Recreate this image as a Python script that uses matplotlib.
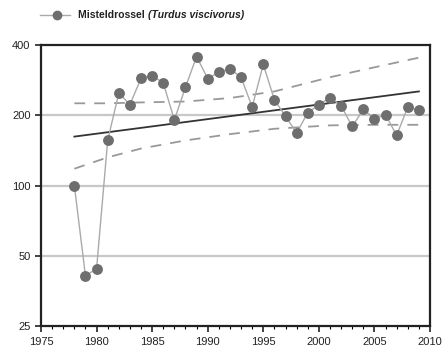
import matplotlib.pyplot as plt
import matplotlib.ticker as ticker

years = list(range(1978, 2010))
counts = [100, 41, 44, 156, 249, 222, 288, 296, 275, 191, 264, 357, 287, 306,
          316, 291, 217, 330, 233, 198, 168, 205, 222, 238, 220, 179, 212, 193,
          201, 164, 217, 210]

trend_years = [1978, 2009]
trend_vals = [162, 253]

band_years = [1978, 1981, 1984, 1988, 1992, 1996, 2001, 2005, 2009]
band_upper = [225, 225, 227, 229, 237, 253, 291, 321, 353]
band_lower = [118, 132, 144, 156, 166, 175, 181, 182, 182]

yticks = [25, 50, 100, 200, 400]
xticks = [1975, 1980, 1985, 1990, 1995, 2000, 2005, 2010]

plt.rcParams['font.family'] = ['Liberation Sans', 'DejaVu Sans']

fig = plt.figure(figsize=(4.48, 3.56), dpi=100)
ax = fig.add_axes([41 / 448, 1 - 326 / 356, 389 / 448, 281 / 356])

ax.set_yscale('log')
ax.set_ylim(25, 400)
ax.set_xlim(1975, 2010)

for v in [50, 100, 200]:
    ax.axhline(v, color='#c8c8c8', lw=1.6, zorder=1)

ax.plot(band_years, band_upper, color='#999999', lw=1.3, ls=(0, (6, 5)), zorder=2)
ax.plot(band_years, band_lower, color='#999999', lw=1.3, ls=(0, (6, 5)), zorder=2)
ax.plot(trend_years, trend_vals, color='#333333', lw=1.3, zorder=3)
ax.plot(years, counts, color='#aaaaaa', lw=1.0, marker='o', ms=6.8,
        mfc='#6e6e6e', mec='#6e6e6e', zorder=4)

ax.yaxis.set_major_locator(ticker.FixedLocator(yticks))
ax.yaxis.set_major_formatter(ticker.FixedFormatter([str(t) for t in yticks]))
ax.yaxis.set_minor_locator(ticker.NullLocator())
ax.xaxis.set_major_locator(ticker.FixedLocator(xticks))
ax.xaxis.set_minor_locator(ticker.MultipleLocator(1))

ax.tick_params(axis='both', which='major', labelsize=8, colors='#222222',
               length=4, width=1.2, direction='out')
ax.tick_params(axis='x', which='minor', length=2, width=0.8, direction='out')
ax.tick_params(axis='x', pad=4)

for s in ax.spines.values():
    s.set_linewidth(1.6)
    s.set_color('#222222')

# legend drawn by hand at the top
fig.lines.append(plt.Line2D([40 / 448, 70 / 448], [1 - 15 / 356] * 2, color='#aaaaaa',
                            lw=1.0, marker='', transform=fig.transFigure))
fig.lines.append(plt.Line2D([57 / 448], [1 - 15 / 356], color='#6e6e6e', marker='o',
                            ms=6, transform=fig.transFigure))
t1 = fig.text(78 / 448, 1 - 15 / 356, 'Misteldrossel ', fontsize=7.5,
              fontweight='bold', va='center', color='#222222')
fig.canvas.draw()
bb = t1.get_window_extent()
fig.text(bb.x1 / 448, 1 - 15 / 356, '(Turdus viscivorus)', fontsize=7.5,
         fontweight='bold', style='italic', va='center', color='#222222')

fig.savefig('out.png', dpi=100)
